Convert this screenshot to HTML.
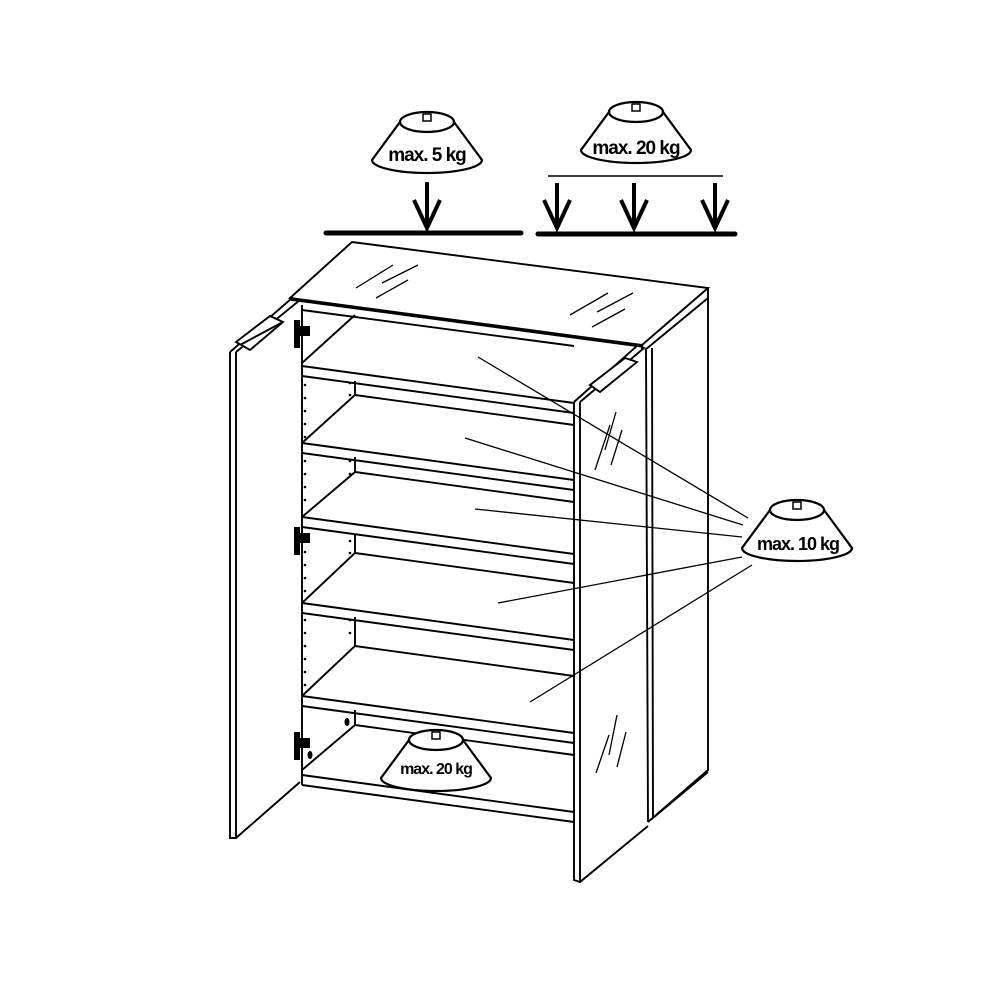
<!DOCTYPE html>
<html><head><style>body{margin:0;background:#fff}svg{display:block}</style></head><body>
<svg width="1000" height="1000" viewBox="0 0 1000 1000" xmlns="http://www.w3.org/2000/svg" font-family="Liberation Sans, sans-serif">
<defs>
<g id="w">
<path d="M-27,0 L-55,38 A55,13 0 0 0 55,38 L27,0" fill="#fff" stroke="#000" stroke-width="2.2"/>
<ellipse cx="0" cy="0" rx="27" ry="10" fill="#fff" stroke="#000" stroke-width="2.2"/>
<rect x="-4" y="-8" width="8" height="7" fill="none" stroke="#000" stroke-width="1.5"/>
</g>
</defs>
<g stroke="#000" fill="none" stroke-width="1.9">
<!-- top -->
<path d="M290,298 L352,242 L708,288 L642,345 Z" fill="#fff"/>
<line x1="290" y1="299" x2="642" y2="346" stroke-width="3.2"/>
<path d="M642,345 L642,350 M708,288 L708,298 L645,350"/>
<g stroke-width="1.3">
<line x1="356" y1="288" x2="393" y2="265"/><line x1="382" y1="283" x2="418" y2="265"/><line x1="376" y1="298" x2="408" y2="280"/>
<line x1="570" y1="315" x2="608" y2="293"/><line x1="597" y1="312" x2="633" y2="293"/><line x1="592" y1="327" x2="625" y2="309"/>
</g>
<!-- right side panel -->
<path d="M646,350 L648,822 M708,298 L708,770 L648,822 M652,348 L653,818 L708,772"/>
<!-- left interior wall -->
<line x1="302" y1="305" x2="302" y2="785"/>
<!-- shelves -->
<path d="M302,366 L574,403 M302,376 L574,413"/>
<path d="M302,443 L574,480 M302,453 L574,490"/>
<path d="M302,517 L574,554 M302,527 L574,564"/>
<path d="M302,603 L574,640 M302,613 L574,650"/>
<path d="M302,696 L574,733 M302,706 L574,743"/>
<path d="M302,775 L574,812 M302,785 L574,822"/>
<!-- back edges & diagonals -->
<path d="M302,310 L574,346 M355,315 L302,363"/>
<path d="M355,381 L355,395 L302,443 M355,395 L574,425"/>
<path d="M355,457 L355,472 L302,517 M355,472 L574,502"/>
<path d="M355,534 L355,553 L302,603 M355,553 L574,583"/>
<path d="M355,617 L355,646 L302,696 M355,646 L574,676"/>
<path d="M355,710 L355,725 L302,770 M355,725 L574,755"/>
<!-- left door -->
<path d="M230,352 L230,838 L236,838 L300,782 M236,838 L236,352 M230,352 L292,298 L300,300 L236,352"/>
<path d="M236,342 L270,316 L283,322 L250,350 Z" fill="#fff"/>
<line x1="240" y1="345" x2="281" y2="323"/>
<!-- right door -->
<path d="M574,402 L574,880 L580,882 L648,826 M580,882 L580,402 M574,402 L638,345 L644,348 L580,402"/>
<path d="M590,385 L625,358 L637,362 L600,392 Z" fill="#fff"/>
<g stroke-width="1.3">
<line x1="595" y1="470" x2="610" y2="425"/><line x1="605" y1="450" x2="616" y2="412"/><line x1="611" y1="465" x2="622" y2="430"/>
<line x1="596" y1="773" x2="609" y2="735"/><line x1="609" y1="755" x2="617" y2="715"/><line x1="617" y1="767" x2="626" y2="732"/>
</g>
<!-- leader lines -->
<g stroke-width="1.3">
<line x1="478" y1="357" x2="748" y2="518"/>
<line x1="465" y1="438" x2="743" y2="525"/>
<line x1="475" y1="509" x2="742" y2="537"/>
<line x1="498" y1="603" x2="742" y2="557"/>
<line x1="530" y1="702" x2="752" y2="565"/>
</g>
<!-- floor lines and arrows -->
<line x1="326" y1="233" x2="521" y2="233" stroke-width="5" stroke-linecap="round"/>
<line x1="538" y1="234" x2="735" y2="234" stroke-width="5" stroke-linecap="round"/>
<line x1="548" y1="176" x2="723" y2="176" stroke-width="1.5"/>
<g stroke-width="4">
<path d="M427,182 L427,228 M414,200 L427,228 L440,200"/>
<path d="M557,183 L557,228 M544,200 L557,228 L570,200"/>
<path d="M634,183 L634,228 M621,200 L634,228 L647,200"/>
<path d="M715,183 L715,228 M702,200 L715,228 L728,200"/>
</g>
</g>
<!-- hinges -->
<g fill="#000">
<rect x="294" y="320" width="6" height="28"/><rect x="296" y="326" width="14" height="10"/>
<rect x="294" y="527" width="6" height="28"/><rect x="296" y="533" width="14" height="10"/>
<rect x="294" y="732" width="6" height="28"/><rect x="296" y="738" width="14" height="10"/>
<ellipse cx="347" cy="722" rx="2.5" ry="4"/><ellipse cx="310" cy="755" rx="2.5" ry="4"/>
</g>
<!-- peg holes -->
<g fill="#000">
<circle cx="305" cy="385" r="1.3"/><circle cx="305" cy="398" r="1.3"/><circle cx="305" cy="411" r="1.3"/><circle cx="305" cy="424" r="1.3"/><circle cx="305" cy="437" r="1.3"/>
<circle cx="350" cy="383" r="1.3"/><circle cx="350" cy="395" r="1.3"/>
<circle cx="305" cy="461" r="1.3"/><circle cx="305" cy="474" r="1.3"/><circle cx="305" cy="487" r="1.3"/><circle cx="305" cy="500" r="1.3"/>
<circle cx="350" cy="461" r="1.3"/><circle cx="350" cy="474" r="1.3"/>
<circle cx="305" cy="552" r="1.3"/><circle cx="305" cy="565" r="1.3"/><circle cx="305" cy="578" r="1.3"/><circle cx="305" cy="591" r="1.3"/>
<circle cx="350" cy="541" r="1.3"/><circle cx="350" cy="553" r="1.3"/>
<circle cx="305" cy="620" r="1.3"/><circle cx="305" cy="633" r="1.3"/><circle cx="305" cy="646" r="1.3"/><circle cx="305" cy="659" r="1.3"/><circle cx="305" cy="672" r="1.3"/><circle cx="305" cy="685" r="1.3"/>
<circle cx="350" cy="620" r="1.3"/><circle cx="350" cy="633" r="1.3"/>
</g>
<!-- weights -->
<use href="#w" x="427" y="122"/>
<use href="#w" x="636" y="112"/>
<use href="#w" x="797" y="510"/>
<use href="#w" x="436" y="740"/>
<g font-weight="bold" text-anchor="middle" fill="#000" letter-spacing="-1">
<text x="427" y="161" font-size="19">max. 5 kg</text>
<text x="636" y="154" font-size="19">max. 20 kg</text>
<text x="798" y="550" font-size="18">max. 10 kg</text>
<text x="436" y="774" font-size="16">max. 20 kg</text>
</g>
</svg>
</body></html>
